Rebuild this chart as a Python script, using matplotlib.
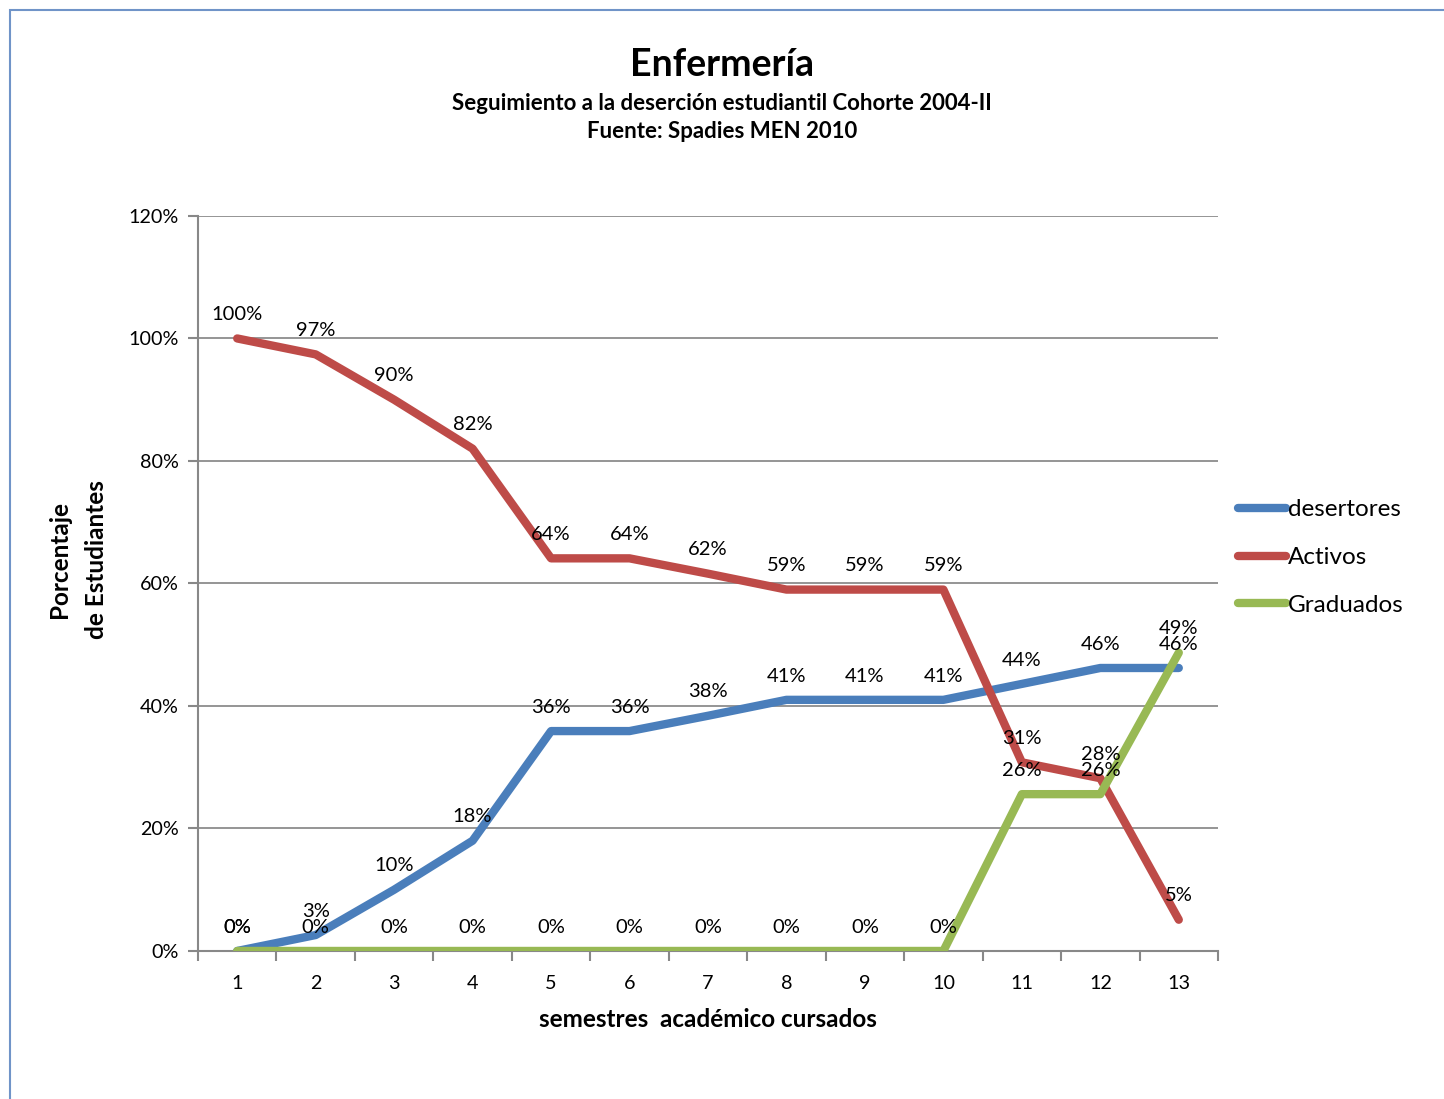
import matplotlib.pyplot as plt
from matplotlib.patches import Rectangle

plt.rcParams['font.family'] = ['Lato', 'DejaVu Sans']

# datos
semestres = [1, 2, 3, 4, 5, 6, 7, 8, 9, 10, 11, 12, 13]
desertores = [0, 2.6, 10, 18, 35.9, 35.9, 38.4, 41, 41, 41, 43.6, 46.2, 46.2]
activos = [100, 97.4, 90, 82, 64.1, 64.1, 61.6, 59, 59, 59, 30.8, 28.2, 5.1]
graduados = [0, 0, 0, 0, 0, 0, 0, 0, 0, 0, 25.6, 25.6, 48.7]

series = [
    ('desertores', desertores, '#4a7ebb'),
    ('Activos', activos, '#be4b48'),
    ('Graduados', graduados, '#98b954'),
]

fig = plt.figure(figsize=(14.44, 10.99), dpi=100)
ax = fig.add_axes([0.1371, 0.1347, 0.7064, 0.6688])

# marco exterior
fig.patches.append(Rectangle((10 / 1444, -0.01), 1.02, 1 - 10 / 1099 + 0.01,
                             transform=fig.transFigure, fill=False,
                             edgecolor='#7094c8', linewidth=1.5))

for nombre, valores, color in series:
    ax.plot(semestres, valores, color=color, linewidth=6, label=nombre,
            solid_capstyle='round', solid_joinstyle='round', zorder=3)

for nombre, valores, color in series:
    for x, v in zip(semestres, valores):
        ax.annotate(f'{round(v):.0f}%', (x, v), xytext=(0, 11),
                    textcoords='offset points', ha='center', va='bottom',
                    fontsize=14.5, color='black', zorder=4)

ax.set_xlim(0.5, 13.5)
ax.set_ylim(0, 120)
ax.set_yticks(range(0, 121, 20))
ax.set_yticklabels([f'{v}%' for v in range(0, 121, 20)], fontsize=14.2)
ax.set_xticks(semestres)
ax.set_xticklabels([str(s) for s in semestres], fontsize=14.2)
ax.set_xticks([s + 0.5 for s in range(0, 14)], minor=True)
ax.tick_params(axis='x', which='major', length=0, pad=17)
ax.tick_params(axis='x', which='minor', length=7, color='#888888', width=1.5)
ax.tick_params(axis='y', length=7, color='#888888', width=1.5, pad=7)

ax.grid(axis='y', color='#8c8c8c', linewidth=1.3, zorder=0)
for lado in ['top', 'right']:
    ax.spines[lado].set_visible(False)
for lado in ['left', 'bottom']:
    ax.spines[lado].set_color('#888888')
    ax.spines[lado].set_linewidth(1.5)

ax.set_xlabel('semestres  académico cursados', fontsize=17.5, fontweight='bold', labelpad=12)
ax.set_ylabel('Porcentaje\nde Estudiantes', fontsize=17.5, fontweight='bold',
              linespacing=1.75)
ax.yaxis.set_label_coords(-0.088, 0.532)

fig.text(0.5, 1 - 65 / 1099, 'Enfermería', ha='center', va='center',
         fontsize=27, fontweight='bold')
fig.text(0.5, 1 - 103 / 1099, 'Seguimiento a la deserción estudiantil Cohorte 2004-II',
         ha='center', va='center', fontsize=16, fontweight='bold')
fig.text(0.5, 1 - 131 / 1099, 'Fuente: Spadies MEN 2010',
         ha='center', va='center', fontsize=16, fontweight='bold')

ax.legend(loc='center left', bbox_to_anchor=(1.02, 0.535), frameon=False,
          fontsize=17.5, handlelength=1.95, handletextpad=0.1, labelspacing=1.1,
          borderpad=0, borderaxespad=0)

fig.savefig('out.png', dpi=100)
